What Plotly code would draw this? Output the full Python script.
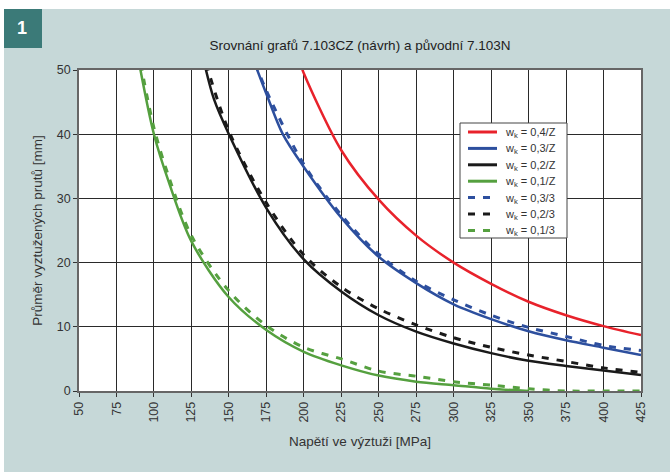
import plotly.graph_objects as go

# ---- data ----
title_text = "Srovnání grafů 7.103CZ (návrh) a původní 7.103N"
x_title = "Napětí ve výztuži [MPa]"
y_title = "Průměr vyztužených prutů [mm]"

x_ticks = [50, 75, 100, 125, 150, 175, 200, 225, 250, 275, 300, 325, 350, 375, 400, 425]
y_ticks = [0, 10, 20, 30, 40, 50]

red_x = [197, 200, 225, 250, 275, 300, 325, 350, 375, 400, 425]
red_y = [51.5, 49.5, 37.5, 29.8, 24.2, 20.0, 16.7, 13.9, 11.8, 10.1, 8.7]

blue_x = [167, 175, 186, 200, 225, 250, 275, 300, 325, 350, 375, 400, 425]
blue_y = [51.2, 46.3, 40.0, 34.9, 27.0, 20.9, 16.8, 13.5, 11.2, 9.3, 7.9, 6.75, 5.6]

black_x = [133.5, 140, 150, 175, 200, 225, 250, 275, 300, 325, 350, 375, 400, 425]
black_y = [51.2, 45.5, 40.0, 28.5, 20.5, 15.5, 11.8, 9.25, 7.4, 5.9, 4.7, 3.9, 3.2, 2.5]

green_x = [90.2, 100, 110, 125, 150, 175, 200, 225, 250, 275, 300, 325, 350]
green_y = [51.0, 40.0, 32.5, 23.3, 14.6, 9.5, 6.1, 4.0, 2.4, 1.45, 0.9, 0.35, 0.0]

blue3_x = [167.8, 175, 200, 225, 250, 275, 300, 325, 350, 375, 400, 425]
blue3_y = [51.0, 46.8, 35.3, 27.4, 21.3, 17.1, 14.2, 11.8, 9.9, 8.5, 7.1, 6.3]

black3_x = [134.8, 150, 175, 200, 225, 250, 275, 300, 325, 350, 375, 400, 425]
black3_y = [51.0, 40.5, 29.3, 21.2, 16.2, 12.8, 10.3, 8.3, 6.8, 5.6, 4.6, 3.6, 2.9]

green3_x = [91.2, 100, 110, 125, 150, 175, 200, 225, 250, 275, 300, 325, 350, 375, 400, 425]
green3_y = [51.0, 41.0, 33.3, 24.2, 15.6, 10.2, 6.8, 5.0, 3.1, 2.3, 1.45, 0.9, 0.35, 0.0, 0.0, 0.0]

series = [
    ("w<sub>k</sub> = 0,4/Z", red_x, red_y, "#e8222b", "solid"),
    ("w<sub>k</sub> = 0,3/Z", blue_x, blue_y, "#2d4f9e", "solid"),
    ("w<sub>k</sub> = 0,2/Z", black_x, black_y, "#1a1a1a", "solid"),
    ("w<sub>k</sub> = 0,1/Z", green_x, green_y, "#55a03f", "solid"),
    ("w<sub>k</sub> = 0,3/3", blue3_x, blue3_y, "#2d4f9e", "dash"),
    ("w<sub>k</sub> = 0,2/3", black3_x, black3_y, "#1a1a1a", "dash"),
    ("w<sub>k</sub> = 0,1/3", green3_x, green3_y, "#55a03f", "dash"),
]

PANEL = "#c6d8d8"
FONT = "Liberation Sans, Arial, sans-serif"
DASH = "7px,8px"

L, R, T, B = 79, 29, 70, 81
W, H = 670, 472
pw, ph = W - L - R, H - T - B


def px_x(p):
    return (p - L) / pw


def px_y(p):
    return (H - B - p) / ph


fig = go.Figure()
for name, xs, ys, col, style in series:
    fig.add_trace(go.Scatter(
        x=xs, y=ys, name=name, mode="lines", showlegend=False,
        line=dict(color=col, width=2.5 if style == "solid" else 3,
                  dash="solid" if style == "solid" else DASH,
                  shape="spline", smoothing=0.9),
    ))

shapes = [
    # white strips outside the panel
    dict(type="rect", xref="paper", yref="paper", x0=px_x(0), x1=px_x(W), y0=px_y(9), y1=px_y(0),
         fillcolor="white", line=dict(width=0), layer="below"),
    dict(type="rect", xref="paper", yref="paper", x0=px_x(0), x1=px_x(4), y0=px_y(H), y1=px_y(0),
         fillcolor="white", line=dict(width=0), layer="below"),
    # badge
    dict(type="rect", xref="paper", yref="paper", x0=px_x(4), x1=px_x(42), y0=px_y(48), y1=px_y(9),
         fillcolor="#3b7a78", line=dict(width=0), layer="below"),
]

annotations = [
    dict(text="<b>1</b>", xref="paper", yref="paper", x=px_x(22), y=px_y(28.5),
         showarrow=False, font=dict(family=FONT, size=18, color="white"),
         xanchor="center", yanchor="middle"),
]

# ---- legend box (drawn as in the reference: compact rows) ----
LG_L, LG_R, LG_T, LG_B = 460, 567, 123, 238
shapes.append(dict(type="rect", xref="paper", yref="paper",
                   x0=px_x(LG_L), x1=px_x(LG_R), y0=px_y(LG_B), y1=px_y(LG_T),
                   fillcolor="white", line=dict(color="#444444", width=1), layer="above"))
row0, row_step = 132, 16.4
for i, (name, xs, ys, col, style) in enumerate(series):
    yy = row0 + i * row_step
    shapes.append(dict(type="line", xref="paper", yref="paper",
                       x0=px_x(468), x1=px_x(497), y0=px_y(yy), y1=px_y(yy),
                       line=dict(color=col, width=3, dash="solid" if style == "solid" else DASH),
                       layer="above"))
    annotations.append(dict(text=name, xref="paper", yref="paper", x=px_x(503), y=px_y(yy + 1),
                            showarrow=False, xanchor="left", yanchor="middle",
                            font=dict(family=FONT, size=11, color="#333333")))

axis_common = dict(
    showgrid=True, gridcolor="#2a2a2a", gridwidth=1,
    showline=True, linecolor="#666666", linewidth=1.5, mirror=True,
    ticks="outside", ticklen=4, tickcolor="#333333",
    tickfont=dict(family=FONT, size=12.5, color="#333333"),
    zeroline=False, automargin=False,
)

fig.update_layout(
    width=W, height=H,
    margin=dict(l=L, r=R, t=T, b=B, pad=0, autoexpand=False),
    paper_bgcolor=PANEL, plot_bgcolor="white",
    font=dict(family=FONT, size=12, color="#333333"),
    title=dict(text=title_text, x=0.5, xref="paper", xanchor="center",
               y=1 - 45 / H, yanchor="middle", yref="container",
               font=dict(family=FONT, size=13.5, color="#222222")),
    xaxis=dict(range=[50, 425], tickvals=x_ticks, ticktext=[str(v) for v in x_ticks],
               tickangle=-90,
               title=dict(text=x_title, standoff=15, font=dict(family=FONT, size=13.5, color="#333333")),
               **axis_common),
    yaxis=dict(range=[0, 50], tickvals=y_ticks,
               title=dict(text=y_title, standoff=11, font=dict(family=FONT, size=13.5, color="#333333")),
               **axis_common),
    showlegend=False,
    shapes=shapes, annotations=annotations,
)

fig.write_html("out.html", config={"displayModeBar": False},
               post_script="document.body.style.margin='0';document.body.style.overflow='hidden';")
